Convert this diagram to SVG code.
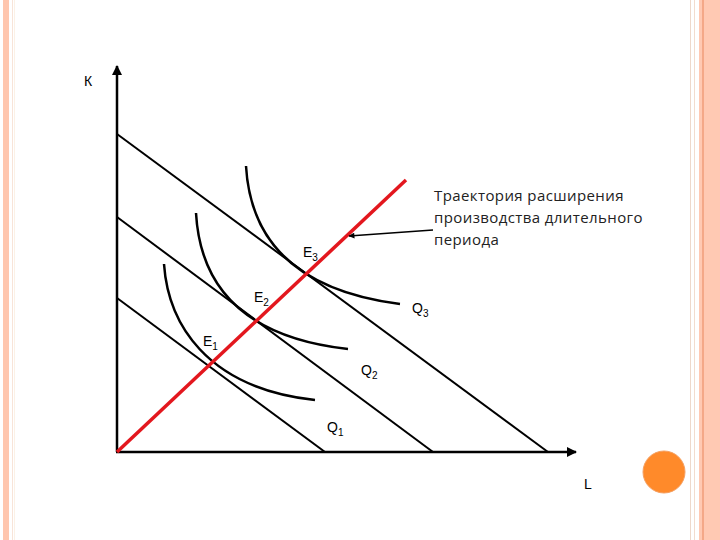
<svg xmlns="http://www.w3.org/2000/svg" width="720" height="540" viewBox="0 0 720 540">
<defs>
<style>
.ln{stroke:#000;stroke-width:2;fill:none}
.iso{stroke:#000;stroke-width:2.5;fill:none}
.ax{stroke:#000;stroke-width:2.5;fill:none}
.lbl{font-family:"Liberation Sans",Arial,sans-serif;font-size:14px;fill:#000}
.sub{font-size:10px}
.note{font-family:"Open Sans","Liberation Sans",sans-serif;font-size:15px;letter-spacing:0.4px;fill:#222}
</style>
<marker id="ah" viewBox="0 0 10 10" refX="9" refY="5" markerWidth="4.5" markerHeight="4" orient="auto-start-reverse">
<path d="M0,0 L10,5 L0,10 z" fill="#000"/>
</marker>
</defs>
<rect width="720" height="540" fill="#fff"/>
<g id="frame">
<rect x="3" y="0" width="6" height="540" fill="#FFC6AE"/>
<rect x="12" y="0" width="1" height="540" fill="#F8E4D8"/>
<rect x="14" y="0" width="1" height="540" fill="#FBF1E6"/>
<rect x="690" y="0" width="1" height="540" fill="#EED8CA"/>
<rect x="694" y="0" width="1" height="540" fill="#F2DCCE"/>
<rect x="699" y="0" width="21" height="540" fill="#FFC9B3"/>
<rect x="702" y="0" width="2" height="540" fill="#F4A888"/>
</g>
<g id="connectors">
<line class="ax" x1="117" y1="452" x2="117" y2="66" marker-end="url(#ah)"/>
<line class="ax" x1="116" y1="452" x2="576" y2="452" marker-end="url(#ah)"/>
<line class="ln" x1="117" y1="134" x2="548" y2="452"/>
<line class="ln" x1="117" y1="217" x2="433" y2="452"/>
<line class="ln" x1="117" y1="298" x2="325" y2="452"/>
<path class="iso" d="M246,166 C250,235 290,290 400,304"/>
<path class="iso" d="M196,213 C200,283 240,337 348,349"/>
<path class="iso" d="M164,264 C168,322 205,388 315,400"/>
<line x1="117" y1="452" x2="406" y2="180" stroke="#E3171E" stroke-width="3.5"/>
<line x1="433" y1="230" x2="349" y2="236" stroke="#000" stroke-width="1.5" marker-end="url(#ah)"/>
</g>
<g id="labels">
<text class="lbl" x="84" y="86">К</text>
<text class="lbl" x="584" y="489">L</text>
<text class="lbl" x="303" y="257">E<tspan class="sub" dy="4">3</tspan></text>
<text class="lbl" x="254" y="302">E<tspan class="sub" dy="4">2</tspan></text>
<text class="lbl" x="203" y="346">E<tspan class="sub" dy="4">1</tspan></text>
<text class="lbl" x="412" y="313">Q<tspan class="sub" dy="4">3</tspan></text>
<text class="lbl" x="361" y="375">Q<tspan class="sub" dy="4">2</tspan></text>
<text class="lbl" x="327" y="432">Q<tspan class="sub" dy="4">1</tspan></text>
</g>
<g id="note">
<text class="note" x="434" y="201">Траектория расширения</text>
<text class="note" x="434" y="223">производства длительного</text>
<text class="note" x="434" y="245">периода</text>
</g>
<circle id="dot" cx="664" cy="472" r="21" fill="#FF8A2A" stroke="#F5A062" stroke-width="1"/>
</svg>
